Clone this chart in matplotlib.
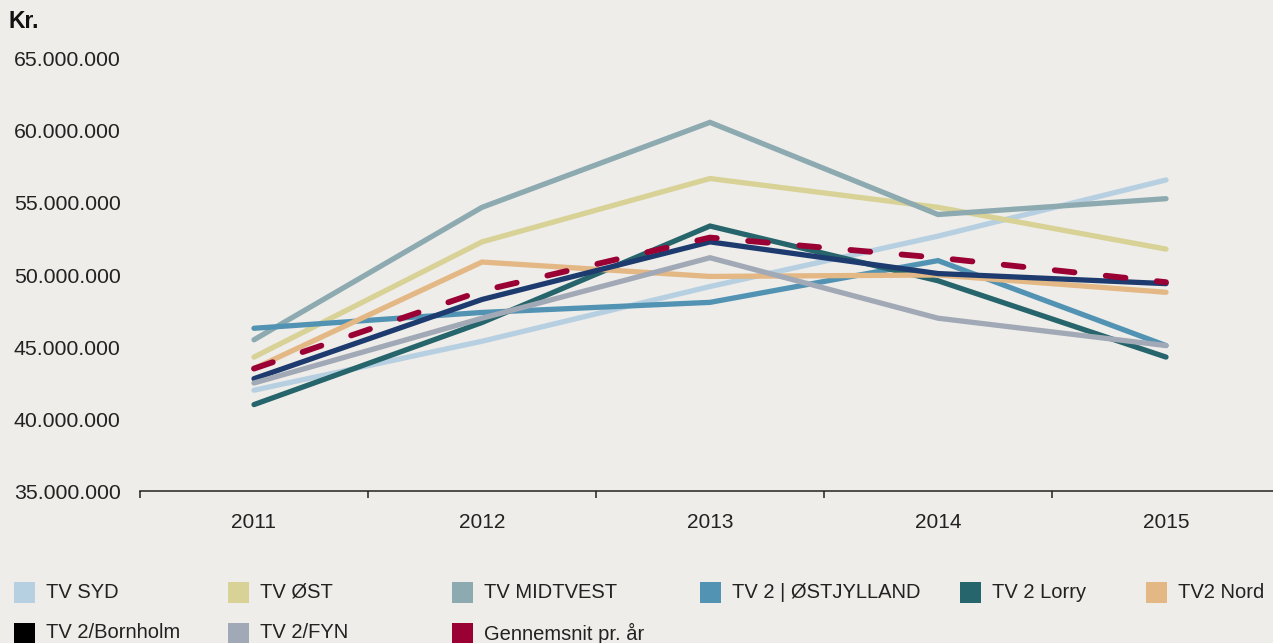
import matplotlib
matplotlib.use("Agg")
import matplotlib.pyplot as plt
from matplotlib.patches import Rectangle
from matplotlib.ticker import FuncFormatter

plt.rcParams['font.family'] = ['Liberation Sans', 'DejaVu Sans']

years = ["2011", "2012", "2013", "2014", "2015"]

# values in mio. kr
tv_syd = [42.0, 45.4, 49.2, 52.7, 56.6]
tv_ost = [44.3, 52.3, 56.7, 54.7, 51.8]
tv_midtvest = [45.5, 54.7, 60.6, 54.2, 55.3]
tv2_ostjylland = [46.3, 47.4, 48.1, 51.0, 45.1]
tv2_lorry = [41.0, 46.7, 53.4, 49.6, 44.3]
tv2_nord = [43.5, 50.9, 49.9, 50.0, 48.8]
tv2_bornholm = [42.8, 48.3, 52.3, 50.1, 49.4]
tv2_fyn = [42.5, 47.0, 51.2, 47.0, 45.1]
gennemsnit = [43.5, 48.9, 52.6, 51.2, 49.5]

names = ["TV SYD", "TV ØST", "TV MIDTVEST", "TV 2 | ØSTJYLLAND", "TV 2 Lorry",
         "TV2 Nord", "TV 2/Bornholm", "TV 2/FYN", "Gennemsnit pr. år"]
series = [tv_syd, tv_ost, tv_midtvest, tv2_ostjylland, tv2_lorry,
          tv2_nord, tv2_bornholm, tv2_fyn, gennemsnit]
line_colors = ["#b7d0e1", "#d8d296", "#8daab1", "#5293b4", "#27656c",
               "#e3b885", "#1e3b6f", "#a2a9b6", "#9a0034"]
legend_colors = ["#b7d0e1", "#d8d296", "#8daab1", "#5293b4", "#27656c",
                 "#e3b885", "#000000", "#a2a9b6", "#9a0034"]

bg = "#eeede9"
fig = plt.figure(figsize=(12.73, 6.43), dpi=100, facecolor=bg)
W, H = 1273, 643
ax = fig.add_axes([140 / W, 1 - 491 / H, 1 - 140 / W, (491 - 59) / H])
ax.set_facecolor(bg)

x = list(range(len(years)))
for i, (name, vals, c) in enumerate(zip(names, series, line_colors)):
    vals_kr = [v * 1e6 for v in vals]
    if name.startswith("Gennemsnit"):
        ax.plot(x, vals_kr, color=c, lw=4.2, linestyle=(0, (3.4, 5.4)),
                dash_capstyle="round", solid_capstyle="round", zorder=10)
    else:
        ax.plot(x, vals_kr, color=c, lw=3.8, solid_capstyle="round",
                solid_joinstyle="miter", zorder=2 + i)

ax.set_ylim(35e6, 65e6)
ax.set_yticks([35e6, 40e6, 45e6, 50e6, 55e6, 60e6, 65e6])
ax.yaxis.set_major_formatter(FuncFormatter(lambda v, p: f"{int(v):,}".replace(",", ".")))
ax.tick_params(axis="y", length=0, pad=14, labelsize=15.3, colors="#222222")

ax.set_xlim(-0.5, (W - 254) / 228)
ax.set_xticks([i - 0.5 for i in range(len(years))])
ax.set_xticklabels([])
ax.set_xticks(x, minor=True)
ax.set_xticklabels(years, minor=True)
ax.tick_params(axis="x", which="major", length=5, width=1.1, color="#222222")
ax.tick_params(axis="x", which="minor", length=0, pad=16, labelsize=15, colors="#222222")

for s in ["top", "right", "left"]:
    ax.spines[s].set_visible(False)
ax.spines["bottom"].set_linewidth(1.1)
ax.spines["bottom"].set_color("#222222")

fig.text(8 / W, 1 - 21 / H, "Kr.", fontsize=16.5, fontweight="bold", va="center", ha="left", color="#111111")

# legend
sq_x = [14, 228, 452, 700, 960, 1146, 14, 228, 452]
row_y = [592, 592, 592, 592, 592, 592, 633, 633, 633]
for name, c, sx, ry in zip(names, legend_colors, sq_x, row_y):
    fig.patches.append(Rectangle((sx / W, 1 - (ry + 11) / H), 21 / W, 21 / H,
                                 transform=fig.transFigure, facecolor=c, edgecolor="none"))
    fig.text((sx + 32) / W, 1 - ry / H, name, fontsize=14.5, va="center", ha="left", color="#222222")

fig.savefig("out.png", dpi=100, facecolor=bg)
